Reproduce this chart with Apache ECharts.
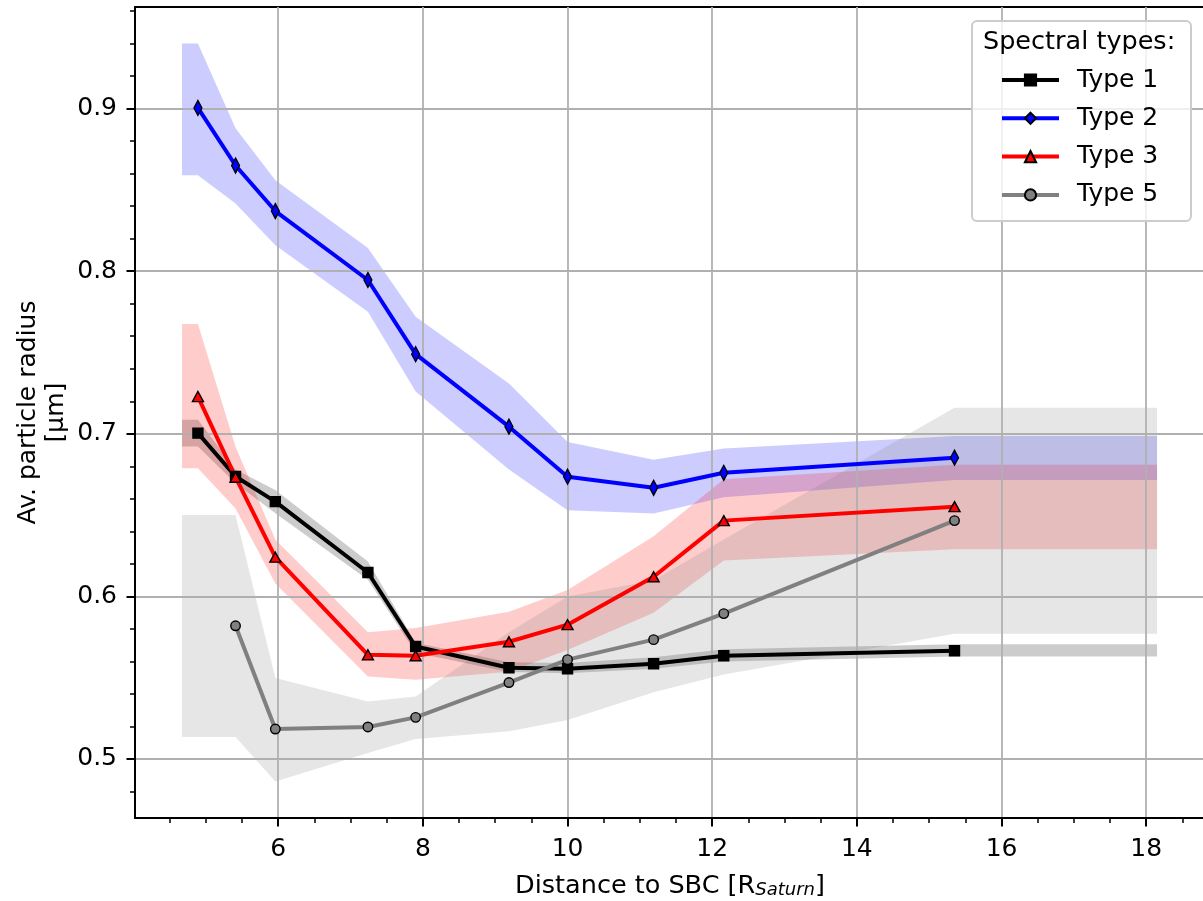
<!DOCTYPE html>
<html><head><meta charset="utf-8">
<script src="https://cdn.jsdelivr.net/npm/echarts@6/dist/echarts.min.js"></script>
<style>html,body{margin:0;padding:0;background:#fff}#c{width:1203px;height:901px}</style>
</head><body><div id="c"></div>
<script>
// ---- data ----
const distances = [4.89, 5.41, 5.96, 7.24, 7.90, 9.19, 10.0, 11.19, 12.16, 15.35];
const type1 = [0.7004, 0.6737, 0.6583, 0.6147, 0.5692, 0.5561, 0.5555, 0.5586, 0.5635, 0.5666];
const type2 = [0.9004, 0.8650, 0.8370, 0.7946, 0.7490, 0.7044, 0.6736, 0.6668, 0.6760, 0.6853];
const type3 = [0.7229, 0.6733, 0.6241, 0.5641, 0.5635, 0.5721, 0.5826, 0.6121, 0.6466, 0.6552];
const type5Distances = [5.41, 5.96, 7.24, 7.90, 9.19, 10.0, 11.19, 12.16, 15.35];
const type5 = [0.5819, 0.5184, 0.5197, 0.5256, 0.5470, 0.5611, 0.5734, 0.5894, 0.6466];

const bandDistances = [4.67, 4.89, 5.41, 5.96, 7.24, 7.90, 9.19, 10.0, 11.19, 12.16, 15.35, 18.15];
const type1Upper = [0.7086, 0.7086, 0.6780, 0.6655, 0.6214, 0.5715, 0.5595, 0.5590, 0.5625, 0.5675, 0.5705, 0.5705];
const type1Lower = [0.6922, 0.6922, 0.6696, 0.6512, 0.6102, 0.5653, 0.5535, 0.5528, 0.5555, 0.5600, 0.5630, 0.5630];
const type2Upper = [0.9400, 0.9400, 0.8880, 0.8560, 0.8143, 0.7720, 0.7310, 0.6950, 0.6840, 0.6910, 0.6987, 0.6987];
const type2Lower = [0.8590, 0.8590, 0.8417, 0.8160, 0.7750, 0.7260, 0.6780, 0.6530, 0.6510, 0.6610, 0.6716, 0.6716];
const type3Upper = [0.7675, 0.7675, 0.6920, 0.6350, 0.5780, 0.5805, 0.5905, 0.6040, 0.6370, 0.6720, 0.6810, 0.6810];
const type3Lower = [0.6788, 0.6788, 0.6540, 0.6080, 0.5508, 0.5487, 0.5537, 0.5670, 0.5900, 0.6220, 0.6290, 0.6290];
const type5BandDistances = [4.67, 5.41, 5.96, 7.24, 7.90, 9.19, 10.0, 11.19, 12.16, 15.35, 18.15];
const type5Upper = [0.6500, 0.6500, 0.5498, 0.5354, 0.5385, 0.5780, 0.6000, 0.6100, 0.6350, 0.7160, 0.7160];
const type5Lower = [0.5135, 0.5135, 0.4862, 0.5037, 0.5123, 0.5170, 0.5240, 0.5410, 0.5520, 0.5770, 0.5770];

const xTicks = [6, 8, 10, 12, 14, 16, 18];
const yTicks = [0.5, 0.6, 0.7, 0.8, 0.9];
const seriesNames = ['Type 1', 'Type 2', 'Type 3', 'Type 5'];

// ---- axis ranges ----
const X_MIN = 4.02, X_MAX = 18.813, Y_MIN = 0.4637, Y_MAX = 0.9625;
const xMinor = [];
for (let v = 4.5; v < X_MAX; v += 0.5) { if (Math.abs(v % 2) > 1e-9) xMinor.push(+v.toFixed(2)); }
const yMinor = [];
for (let k = 24; k <= 48; k++) { if (k % 5 !== 0) yMinor.push(+(k * 0.02).toFixed(2)); }

const FONT = 'DejaVu Sans';
const LW = 4;

function band(xs, lo, hi, color) {
  return {
    type: 'custom', silent: true, z: 1, animation: false,
    data: xs.map((x, i) => [x, lo[i], hi[i]]),
    encode: { x: 0, y: [1, 2] },
    renderItem: function (params, api) {
      if (params.dataIndex !== 0) return null;
      const pts = [];
      for (let i = 0; i < xs.length; i++) pts.push(api.coord([xs[i], hi[i]]));
      for (let i = xs.length - 1; i >= 0; i--) pts.push(api.coord([xs[i], lo[i]]));
      return { type: 'polygon', shape: { points: pts }, style: { fill: color } };
    }
  };
}
function line(name, xs, ys, color, face, symbol, size) {
  return {
    type: 'line', name: name, z: 5, animation: false,
    data: xs.map((x, i) => [x, ys[i]]),
    symbol: symbol, symbolSize: size, showSymbol: true, showAllSymbol: true,
    lineStyle: { color: color, width: LW },
    itemStyle: { color: face, borderColor: '#000', borderWidth: 1.4 },
    emphasis: { disabled: true }
  };
}

const chart = echarts.init(document.getElementById('c'), null, { renderer: 'canvas' });
chart.setOption({
  backgroundColor: '#fff',
  animation: false,
  textStyle: { fontFamily: FONT },
  grid: { left: 135, top: 7, width: 1070, height: 811, show: true, borderColor: '#000', borderWidth: 2,
    backgroundColor: 'rgba(0,0,0,0)', containLabel: false, outerBoundsMode: 'none' },
  title: { text: 'Spectral types:', left: 983, top: 30, padding: 0, z: 12,
    textStyle: { fontSize: 25.5, fontWeight: 'normal', color: '#000', fontFamily: FONT, lineHeight: 25 } },
  legend: {
    data: seriesNames, orient: 'vertical', left: 1000, top: 67.5, padding: 0, itemGap: 13.3,
    itemWidth: 57, itemHeight: 14, selectedMode: false, z: 12,
    lineStyle: { width: LW },
    textStyle: { fontSize: 25, color: '#000', fontFamily: FONT, lineHeight: 25, padding: [0, 0, 0, 13] }
  },
  graphic: [{
    type: 'rect', z: 11, silent: true,
    shape: { x: 972, y: 21, width: 219, height: 200, r: 5 },
    style: { fill: 'rgba(255,255,255,0.8)', stroke: '#cccccc', lineWidth: 2 }
  }],
  xAxis: [{
    type: 'value', min: X_MIN, max: X_MAX, splitNumber: 7, position: 'bottom', z: 3,
    axisLine: { show: true, onZero: false, lineStyle: { color: '#000', width: 2 } },
    axisTick: { show: true, length: 8.5, customValues: xTicks, lineStyle: { color: '#000', width: 2 } },
    axisLabel: { customValues: xTicks, fontSize: 25, color: '#000', margin: 19, fontFamily: FONT },
    splitLine: { show: true, lineStyle: { color: '#b0b0b0', width: 1.8 } },
    name: 'Distance to SBC [R{s|Saturn}]', nameLocation: 'middle', nameGap: 56, nameMoveOverlap: false,
    nameTextStyle: { fontSize: 25.5, color: '#000', fontFamily: FONT, lineHeight: 25,
      rich: { s: { fontSize: 18, fontStyle: 'italic', color: '#000', fontFamily: FONT, lineHeight: 18, padding: [13, 0, 0, 0], verticalAlign: 'bottom' } } }
  }, {
    type: 'value', min: X_MIN, max: X_MAX, position: 'bottom', z: 3,
    axisLine: { show: false }, axisLabel: { show: false }, splitLine: { show: false },
    axisTick: { show: true, length: 5, customValues: xMinor, lineStyle: { color: '#000', width: 1.5 } }
  }],
  yAxis: [{
    type: 'value', min: Y_MIN, max: Y_MAX, splitNumber: 5, position: 'left', z: 3,
    axisLine: { show: true, onZero: false, lineStyle: { color: '#000', width: 2 } },
    axisTick: { show: true, length: 8.5, customValues: yTicks, lineStyle: { color: '#000', width: 2 } },
    axisLabel: { customValues: yTicks, fontSize: 25, color: '#000', margin: 18, fontFamily: FONT },
    splitLine: { show: true, lineStyle: { color: '#b0b0b0', width: 1.8 } },
    name: 'Av. particle radius\n[µm]', nameLocation: 'middle', nameGap: 64, nameMoveOverlap: false,
    nameTextStyle: { fontSize: 25, color: '#000', fontFamily: FONT, lineHeight: 28.6 }
  }, {
    type: 'value', min: Y_MIN, max: Y_MAX, position: 'left', z: 3,
    axisLine: { show: false }, axisLabel: { show: false }, splitLine: { show: false },
    axisTick: { show: true, length: 5, customValues: yMinor, lineStyle: { color: '#000', width: 1.5 } }
  }],
  series: [
    band(bandDistances, type1Lower, type1Upper, 'rgba(0,0,0,0.2)'),
    band(bandDistances, type2Lower, type2Upper, 'rgba(0,0,255,0.2)'),
    band(bandDistances, type3Lower, type3Upper, 'rgba(255,0,0,0.2)'),
    band(type5BandDistances, type5Lower, type5Upper, 'rgba(128,128,128,0.2)'),
    line('Type 1', distances, type1, '#000000', '#000000', 'rect', 10),
    line('Type 2', distances, type2, '#0000ff', '#0000ff', 'diamond', [8, 15]),
    line('Type 3', distances, type3, '#ff0000', '#ff0000', 'triangle', [11, 10]),
    line('Type 5', type5Distances, type5, '#808080', '#808080', 'circle', 9.5)
  ]
});
</script></body></html>
